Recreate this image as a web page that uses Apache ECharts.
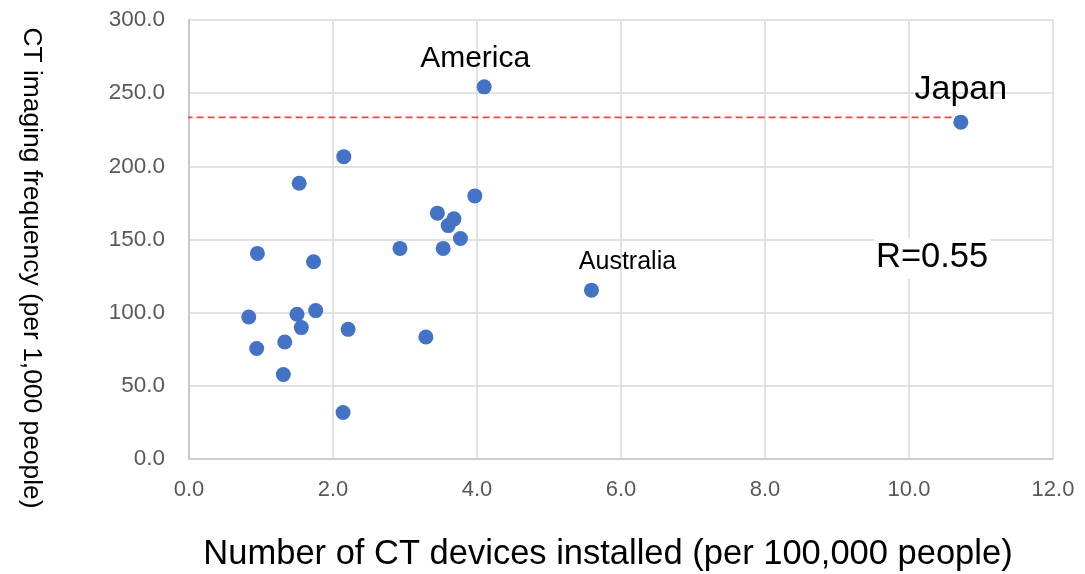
<!DOCTYPE html>
<html>
<head>
<meta charset="utf-8">
<script src="https://cdn.jsdelivr.net/npm/echarts@6/dist/echarts.min.js"></script>
<style>html,body{margin:0;padding:0;background:#fff;}#c{width:1085px;height:574px;}</style>
</head>
<body>
<div id="c"></div>
<script>
// Data
var devices = [2.15, 1.53, 3.97, 3.45, 3.68, 3.60, 3.77, 2.93, 3.53, 0.95, 1.73, 0.83, 1.50, 1.76, 1.56, 2.21, 3.29, 1.33, 0.94, 1.31, 2.14, 4.10, 5.59, 10.72];
var imaging = [206.6, 188.4, 179.8, 168.0, 164.1, 159.5, 150.7, 143.9, 143.9, 140.5, 134.8, 97.0, 98.9, 101.4, 89.8, 88.6, 83.4, 80.0, 75.5, 57.7, 31.8, 254.3, 115.4, 230.2];
var names = ['', '', '', '', '', '', '', '', '', '', '', '', '', '', '', '', '', '', '', '', '', 'America', 'Australia', 'Japan'];
var xTicks = [0, 2, 4, 6, 8, 10, 12];
var yTicks = [0, 50, 100, 150, 200, 250, 300];
var refLineX = [-0.2, 10.72];
var refLineY = 233.4;
var rText = 'R=0.55';

var labelStyles = {
  'America': {fontSize: 30, distance: 6, offset: [-9, 0]},
  'Australia': {fontSize: 25, distance: 8, offset: [36, 0]},
  'Japan': {fontSize: 34, distance: 8, offset: [0, 0]}
};

var pts = devices.map(function (x, i) {
  var item = {value: [x, imaging[i]], name: names[i]};
  var ls = labelStyles[names[i]];
  if (ls) {
    item.label = {
      show: true, position: 'top', formatter: names[i],
      fontSize: ls.fontSize, distance: ls.distance, offset: ls.offset,
      color: '#000000', fontFamily: 'Liberation Sans'
    };
  }
  return item;
});

var chart = echarts.init(document.getElementById('c'));
chart.setOption({
  animation: false,
  grid: {left: 189, right: 32, top: 20, bottom: 115},
  xAxis: {
    type: 'value', min: xTicks[0], max: xTicks[xTicks.length - 1], interval: xTicks[1] - xTicks[0],
    axisLine: {show: true, lineStyle: {color: '#C8C8C8', width: 1.5}},
    axisTick: {show: false},
    axisLabel: {formatter: function (v) { return v.toFixed(1); }, color: '#595959', fontSize: 22, margin: 20, fontFamily: 'Liberation Sans'},
    splitLine: {show: true, lineStyle: {color: '#D9D9D9', width: 1.5}}
  },
  yAxis: {
    type: 'value', min: yTicks[0], max: yTicks[yTicks.length - 1], interval: yTicks[1] - yTicks[0],
    axisLine: {show: true, lineStyle: {color: '#C8C8C8', width: 2}},
    axisTick: {show: false},
    axisLabel: {formatter: function (v) { return v.toFixed(1); }, color: '#595959', fontSize: 22.5, margin: 24, fontFamily: 'Liberation Sans'},
    splitLine: {show: true, lineStyle: {color: '#D9D9D9', width: 1.5}}
  },
  series: [
    {
      type: 'line',
      data: refLineX.map(function (x) { return [x, refLineY]; }),
      showSymbol: false, symbol: 'none', clip: false,
      lineStyle: {color: '#FF4040', width: 1.8, type: [7, 4], opacity: 1},
      z: 1
    },
    {
      type: 'scatter',
      data: pts,
      symbolSize: 15,
      itemStyle: {color: '#4472C4', opacity: 1},
      label: {show: false, color: '#000000'},
      z: 3
    }
  ],
  graphic: [
    {type: 'text', left: 874, top: 238, z: 10, style: {text: rText, fontSize: 34.5, fill: '#000', fontFamily: 'Liberation Sans', backgroundColor: '#fff', padding: [2, 2, 4, 2]}},
    {type: 'text', x: 608, y: 554, style: {text: 'Number of CT devices installed (per 100,000 people)', fontSize: 34.5, fill: '#000', fontFamily: 'Liberation Sans', textAlign: 'center', textVerticalAlign: 'middle'}},
    {type: 'text', x: 31, y: 268, rotation: -Math.PI / 2, style: {text: 'CT imaging frequency (per 1,000 people)', fontSize: 26.4, fill: '#000', fontFamily: 'Liberation Sans', textAlign: 'center', textVerticalAlign: 'middle'}}
  ]
});
</script>
</body>
</html>
